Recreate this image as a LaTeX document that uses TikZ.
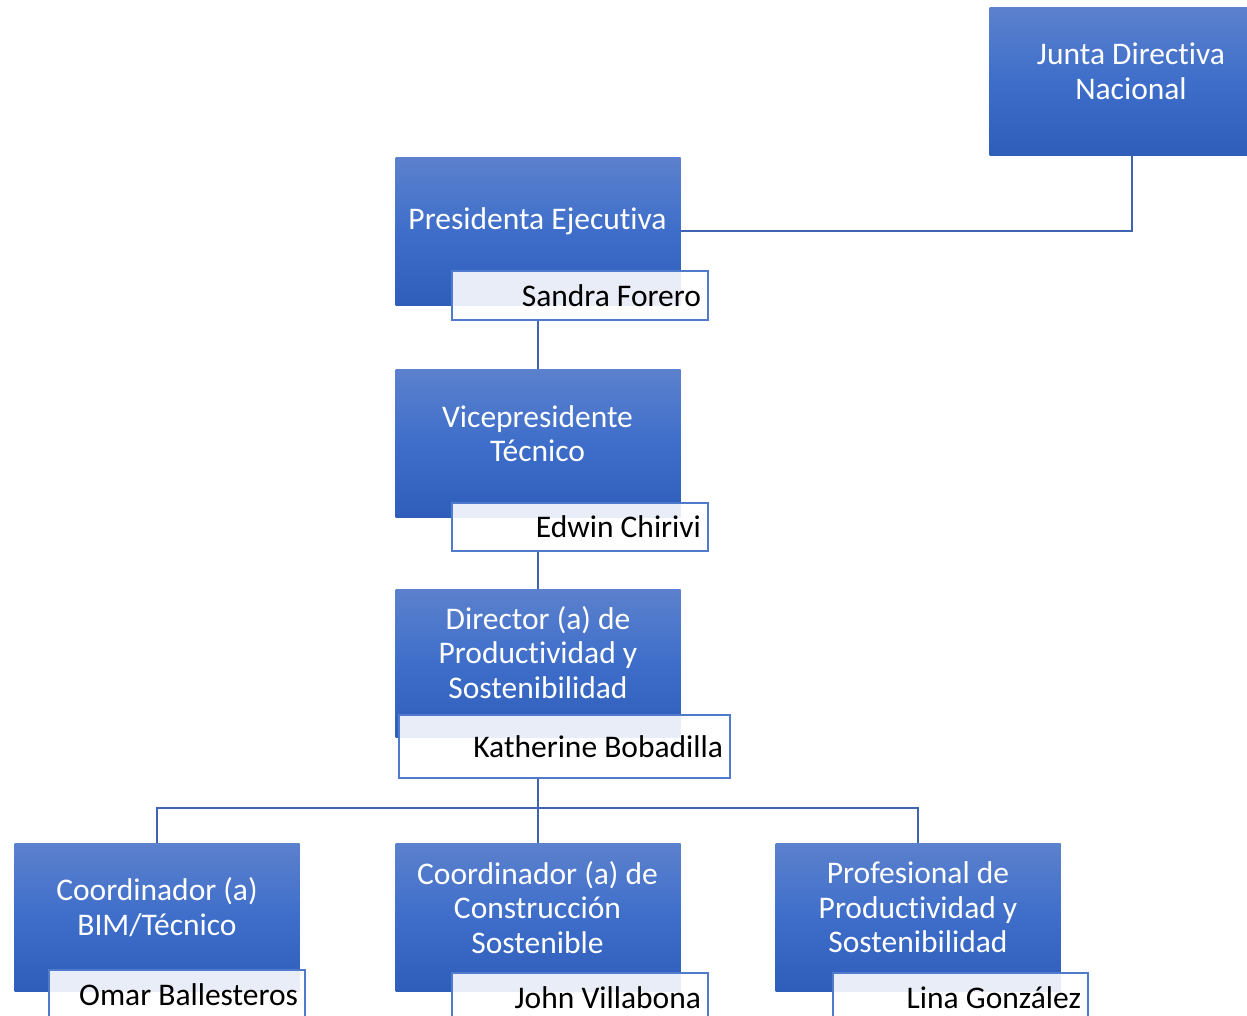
\documentclass[tikz,border=0pt]{standalone}
\usepackage{fontspec}
\setmainfont[Ligatures=NoCommon]{Carlito}
\definecolor{topblue}{RGB}{92,129,205}
\definecolor{midblue}{RGB}{62,110,202}
\definecolor{botblue}{RGB}{47,94,186}
\definecolor{lineblue}{RGB}{62,100,178}
\definecolor{nameblue}{RGB}{80,122,204}
\begin{document}
\begin{tikzpicture}[x=1pt,y=-1pt,
  role/.style={minimum width=285pt, minimum height=148pt, inner sep=0pt,
    top color=topblue, bottom color=botblue, middle color=midblue, draw=none},
  roletext/.style={text=white, align=center, font=\fontsize{31.5}{34.5}\selectfont, inner sep=0pt},
  namebox/.style={draw=nameblue, line width=1.6pt, fill=white, fill opacity=0.89, text opacity=1,
    inner xsep=7pt, inner ysep=0pt, align=flush right, font=\fontsize{31.5}{34.5}\selectfont, text=black},
  conn/.style={draw=lineblue, line width=2pt}]
\useasboundingbox (0,0) rectangle (1247,1015);
\clip (0,0) rectangle (1247,1015);
% role boxes
\node[role] (j) at (1132,81) {};
\node[role] (p) at (538,231) {};
\node[role] (v) at (538,443) {};
\node[role] (d) at (538,663) {};
\node[role] (b1) at (157,917) {};
\node[role] (b2) at (538,917) {};
\node[role] (b3) at (918,917) {};
% role texts
\node[roletext] (jt) at (1131,71.5) {Junta Directiva\\Nacional};
\node[roletext] (pt) at (537.5,221) {Presidenta Ejecutiva};
\node[roletext] (vt) at (537.5,433.5) {Vicepresidente\\Técnico};
\node[roletext] (dt) at (538,652.5) {Director (a) de\\Productividad y\\Sostenibilidad};
\node[roletext] (b1t) at (157,907) {Coordinador (a)\\BIM/Técnico};
\node[roletext] (b2t) at (537.5,907.5) {Coordinador (a) de\\Construcción\\Sostenible};
\node[roletext] (b3t) at (918,907.5) {Profesional de\\Productividad y\\Sostenibilidad};
% name boxes
\node[namebox, text width=242pt, minimum height=49pt] (pn) at (580,295.5) {Sandra Forero};
\node[namebox, text width=242pt, minimum height=48pt] (vn) at (580,527) {Edwin Chirivi};
\node[namebox, text width=317pt, minimum height=63pt] (dn) at (564.5,746.5) {Katherine Bobadilla};
\node[namebox, text width=242pt, minimum height=50pt] (b1n) at (177,995) {Omar Ballesteros};
\node[namebox, text width=242pt, minimum height=50pt] (b2n) at (580,998) {John Villabona};
\node[namebox, text width=241pt, minimum height=50pt] (b3n) at (960.5,998) {Lina González};
% connectors
\draw[conn] (j.south) |- (p.east);
\draw[conn] (pn.south -| p.south) -- (v.north);
\draw[conn] (vn.south -| v.south) -- (d.north);
\coordinate (bus) at (538,808);
\draw[conn] (dn.south -| bus) -- (bus);
\draw[conn] (b1.north) |- (bus) -| (b3.north);
\draw[conn] (bus) -- (b2.north);
\end{tikzpicture}
\end{document}
